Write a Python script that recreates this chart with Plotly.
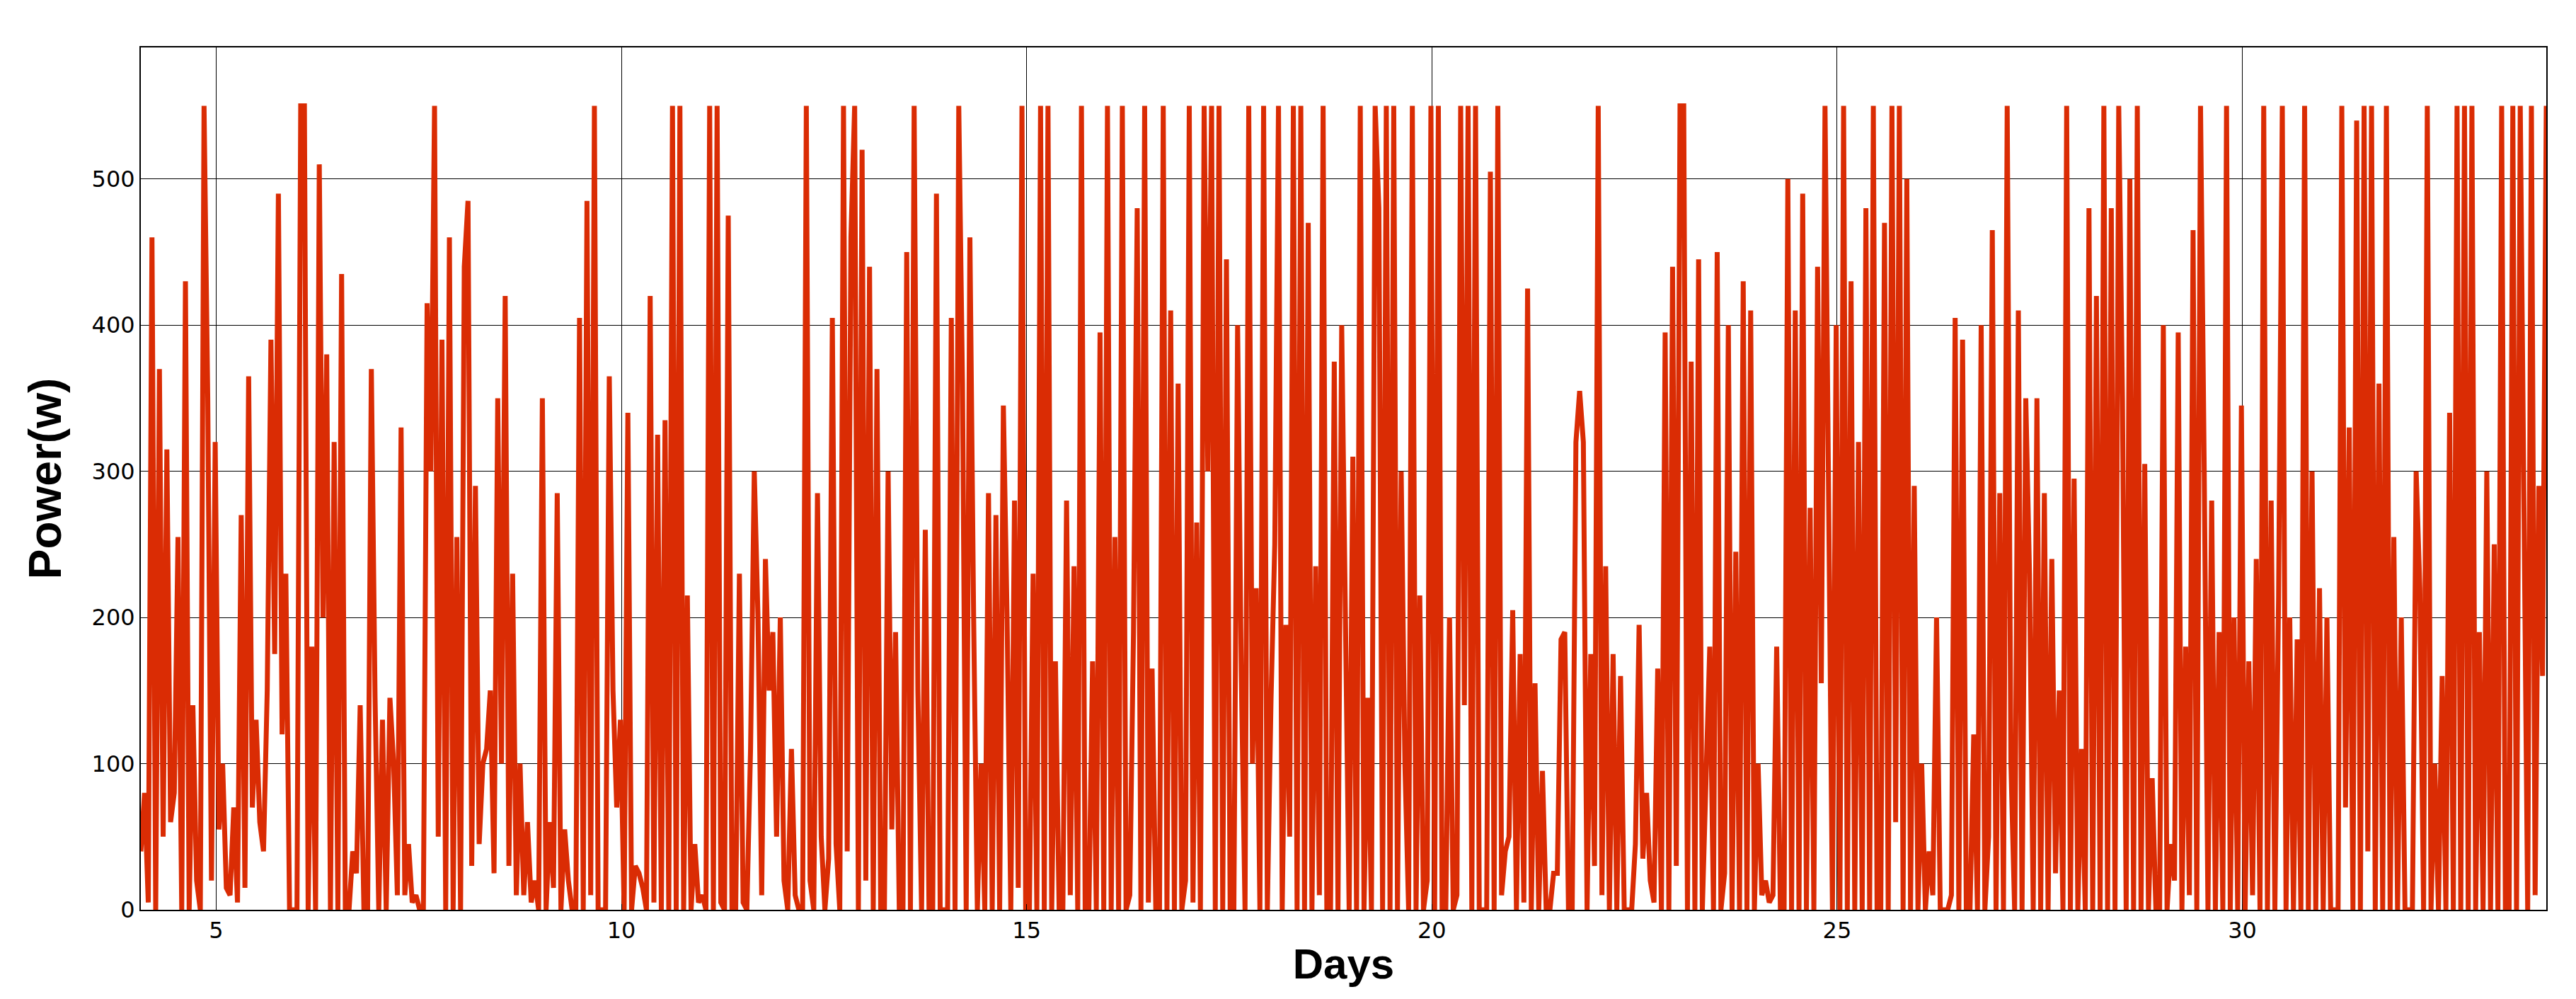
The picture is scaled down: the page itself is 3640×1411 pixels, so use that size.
import numpy as np
import plotly.graph_objects as go

# hourly power readings (W), day 4 onwards
day04 = [40, 80, 5, 460, 0, 370, 50, 315, 60, 80, 255, 0, 430, 0, 140, 20, 0, 550, 350, 20, 320, 55, 100, 15]
day05 = [10, 70, 5, 270, 15, 365, 70, 130, 60, 40, 150, 390, 175, 490, 120, 230, 0, 0, 0, 550, 550, 0, 180, 0]
day06 = [510, 200, 380, 0, 320, 0, 435, 0, 0, 40, 25, 140, 0, 0, 370, 145, 0, 130, 0, 145, 100, 10, 330, 10]
day07 = [45, 5, 10, 0, 0, 415, 300, 550, 50, 390, 0, 460, 0, 255, 0, 440, 485, 30, 290, 45, 100, 110, 150, 25]
day08 = [350, 100, 420, 30, 230, 10, 100, 10, 60, 5, 20, 0, 350, 0, 60, 15, 285, 0, 55, 20, 0, 0, 405, 0]
day09 = [485, 10, 550, 0, 0, 0, 365, 150, 70, 130, 0, 340, 0, 30, 25, 15, 0, 420, 5, 325, 0, 335, 0, 550]
day10 = [0, 550, 0, 215, 0, 45, 5, 10, 0, 550, 0, 550, 5, 0, 475, 0, 0, 230, 5, 0, 110, 300, 200, 10]
day11 = [240, 150, 190, 50, 200, 20, 0, 110, 10, 0, 0, 550, 20, 0, 285, 50, 0, 35, 405, 45, 0, 550, 40, 460]
day12 = [550, 0, 520, 20, 440, 0, 370, 0, 0, 300, 55, 190, 0, 0, 450, 0, 550, 150, 0, 260, 0, 0, 490, 0]
day13 = [0, 0, 405, 0, 550, 360, 0, 460, 200, 0, 100, 0, 285, 0, 270, 0, 345, 200, 0, 280, 15, 550, 0, 0]
day14 = [230, 0, 550, 0, 550, 0, 170, 0, 0, 280, 10, 235, 0, 550, 0, 0, 170, 0, 395, 0, 550, 0, 255, 0]
day15 = [550, 0, 10, 190, 480, 0, 550, 5, 165, 0, 0, 550, 0, 410, 0, 360, 0, 20, 550, 5, 265, 0, 550, 300]
day16 = [550, 0, 550, 0, 445, 0, 0, 400, 160, 0, 550, 100, 220, 0, 550, 0, 145, 250, 550, 0, 195, 50, 550, 0]
day17 = [550, 0, 470, 0, 235, 10, 550, 0, 0, 375, 0, 400, 200, 0, 310, 0, 550, 0, 145, 0, 550, 480, 0, 550]
day18 = [0, 550, 0, 300, 100, 0, 550, 0, 215, 0, 20, 550, 0, 550, 0, 0, 200, 0, 10, 550, 140, 550, 0, 550]
day19 = [0, 0, 0, 505, 0, 550, 10, 40, 50, 205, 0, 175, 5, 425, 0, 155, 0, 95, 0, 0, 25, 25, 185, 190]
day20 = [0, 0, 320, 355, 320, 0, 175, 30, 550, 10, 235, 0, 175, 0, 160, 0, 0, 0, 45, 195, 35, 80, 20, 5]
day21 = [165, 0, 395, 0, 440, 30, 550, 550, 0, 375, 0, 445, 0, 100, 180, 0, 450, 0, 25, 400, 0, 245, 0, 430]
day22 = [0, 410, 0, 100, 10, 20, 5, 10, 180, 0, 0, 500, 0, 410, 0, 490, 0, 275, 0, 440, 155, 550, 290, 0]
day23 = [400, 0, 550, 0, 430, 0, 320, 0, 480, 0, 550, 0, 0, 470, 0, 550, 60, 550, 0, 500, 0, 290, 0, 100]
day24 = [0, 40, 10, 200, 0, 0, 0, 10, 405, 0, 390, 0, 0, 120, 0, 400, 0, 50, 465, 0, 285, 0, 550, 100]
day25 = [0, 410, 0, 350, 230, 0, 350, 0, 285, 0, 240, 25, 150, 0, 550, 0, 295, 0, 110, 0, 480, 0, 420, 0]
day26 = [550, 0, 480, 0, 550, 350, 0, 500, 0, 550, 0, 305, 0, 90, 0, 0, 400, 0, 45, 20, 395, 0, 180, 10]
day27 = [465, 0, 550, 300, 0, 280, 0, 190, 0, 550, 0, 200, 0, 345, 0, 170, 10, 240, 0, 550, 0, 280, 0, 215]
day28 = [550, 0, 200, 0, 185, 0, 550, 0, 300, 0, 220, 0, 200, 0, 0, 0, 550, 70, 330, 0, 540, 0, 550, 40]
day29 = [550, 0, 360, 0, 550, 0, 255, 0, 200, 0, 0, 0, 300, 220, 0, 550, 0, 100, 0, 160, 0, 340, 0, 550]
day30 = [0, 550, 0, 550, 0, 190, 0, 300, 0, 250, 0, 550, 0, 0, 550, 0, 550, 220, 0, 550, 10, 290, 160, 550]

days = [day04, day05, day06, day07, day08, day09, day10, day11, day12, day13,
        day14, day15, day16, day17, day18, day19, day20, day21, day22, day23,
        day24, day25, day26, day27, day28, day29, day30]

power = [v for d in days for v in d]
t = 4.07 + np.arange(len(power)) * (33.75 - 4.07) / (len(power) - 1)

fig = go.Figure()
fig.add_trace(go.Scatter(x=t, y=power, mode="lines",
                         line=dict(color="#da2c04", width=7),
                         hoverinfo="skip"))

axis_common = dict(showgrid=True, gridcolor="black", gridwidth=1, zeroline=False,
                   showline=True, linecolor="black", linewidth=2, mirror=True,
                   ticks="inside", ticklen=8, tickcolor="black",
                   tickfont=dict(family="DejaVu Sans, Arial", size=32, color="black"))

fig.update_xaxes(range=[4.07, 33.75], tickvals=[5, 10, 15, 20, 25, 30],
                 title=dict(text="<b>Days</b>", font=dict(family="Liberation Sans, Arial", size=60, color="black"), standoff=8),
                 **axis_common)
fig.update_yaxes(range=[0, 590], tickvals=[0, 100, 200, 300, 400, 500],
                 title=dict(text="<b>Power(w)</b>", font=dict(family="Liberation Sans, Arial", size=64, color="black"), standoff=22),
                 **axis_common)

fig.update_layout(width=3640, height=1411, plot_bgcolor="white", paper_bgcolor="white",
                  showlegend=False, margin=dict(l=191, r=50, t=59, b=134))

fig.write_html("out.html")
